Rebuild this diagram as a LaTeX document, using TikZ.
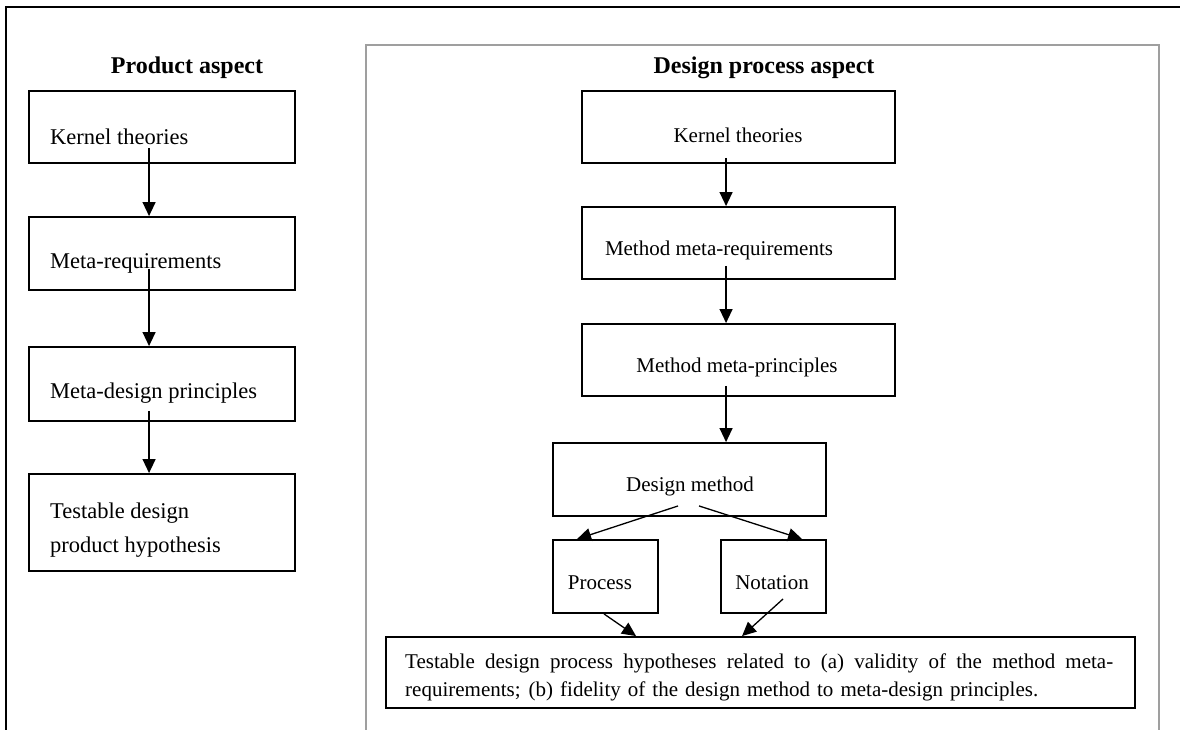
\documentclass[tikz,border=0pt]{standalone}
\usepackage{fontspec}
\setmainfont{Liberation Serif}
\usetikzlibrary{arrows.meta}
\begin{document}
\begin{tikzpicture}[x=1pt,y=-1pt,
  box/.style={draw=black, line width=1.9pt, rectangle, inner sep=0pt},
  ltxt/.style={anchor=west, inner sep=0pt, font=\fontsize{22.5}{27}\selectfont},
  rtxt/.style={inner sep=0pt, font=\fontsize{21}{25}\selectfont},
  ttl/.style={inner sep=0pt, font=\fontsize{24}{28}\selectfont\bfseries},
  arr/.style={line width=1.3pt, -{Triangle[length=14pt,width=13pt]}}]
\useasboundingbox (0,0) rectangle (1180,730);
\fill[white] (0,0) rectangle (1180,730);
% outer frame
\draw[line width=2.8pt] (6,731) -- (6,7) -- (1181,7);
% design process container
\draw[gray!75, line width=1.5pt] (366,731) -- (366,45) -- (1159,45) -- (1159,731);
% titles
\node[ttl] (tp) at (187,68) {Product aspect};
\node[ttl] (td) at (764,68) {Design process aspect};
% left boxes
\node[box, minimum width=266pt, minimum height=72pt] (k1) at (162,127) {};
\node[box, minimum width=266pt, minimum height=73pt] (m1) at (162,253.5) {};
\node[box, minimum width=266pt, minimum height=74pt] (d1) at (162,384) {};
\node[box, minimum width=266pt, minimum height=97pt] (t1) at (162,522.5) {};
\node[ltxt] (k1t) at (50,137) {Kernel theories};
\node[ltxt] (m1t) at (50,263) {Meta-requirements};
\node[ltxt] (d1t) at (50,393) {Meta-design principles};
\node[ltxt] (t1t) at (50,513) {Testable design};
\node[ltxt] (t1u) at (50,547) {product hypothesis};
% left arrows
\draw[arr] ([xshift=121pt,yshift=16pt]k1.south west) -- ([xshift=121pt]m1.north west);
\draw[arr] ([xshift=121pt,yshift=22pt]m1.south west) -- ([xshift=121pt]d1.north west);
\draw[arr] ([xshift=121pt,yshift=11pt]d1.south west) -- ([xshift=121pt]t1.north west);
% right boxes
\node[box, minimum width=313pt, minimum height=72pt] (k2) at (738.5,127) {};
\node[box, minimum width=313pt, minimum height=72pt] (mr) at (738.5,243) {};
\node[box, minimum width=313pt, minimum height=72pt] (mp) at (738.5,360) {};
\node[box, minimum width=273pt, minimum height=73pt] (dm) at (689.5,479.5) {};
\node[box, minimum width=105pt, minimum height=73pt] (pr) at (605.5,576.5) {};
\node[box, minimum width=105pt, minimum height=73pt] (no) at (773.5,576.5) {};
\node[box, minimum width=749pt, minimum height=71pt] (bt) at (760.5,672.5) {};
\node[rtxt] (k2t) at (738,135) {Kernel theories};
\node[rtxt] (mrt) at (719,250) {Method meta-requirements};
\node[rtxt] (mpt) at (737,367) {Method meta-principles};
\node[rtxt] (dmt) at (690,486) {Design method};
\node[rtxt] (prt) at (600,583) {Process};
\node[rtxt] (not) at (772,583) {Notation};
\node[rtxt, anchor=west] (bt1) at (405,663) {\makebox[708pt][s]{Testable design process hypotheses related to (a) validity of the method meta-}};
\node[rtxt, anchor=west] (bt2) at (405,691) {\makebox[633pt][s]{requirements; (b) fidelity of the design method to meta-design principles.}};
% right arrows
\draw[arr] ([xshift=145pt,yshift=6pt]k2.south west) -- ([xshift=145pt]mr.north west);
\draw[arr] ([xshift=145pt,yshift=14pt]mr.south west) -- ([xshift=145pt]mp.north west);
\draw[arr] ([xshift=145pt,yshift=11pt]mp.south west) -- ([xshift=174pt]dm.north west);
\draw[arr] ([xshift=126pt,yshift=11pt]dm.south west) -- ([xshift=25pt]pr.north west);
\draw[arr] ([xshift=147pt,yshift=11pt]dm.south west) -- ([xshift=82pt]no.north west);
\draw[arr] ([xshift=52pt]pr.south west) -- ([xshift=251pt]bt.north west);
\draw[arr] ([xshift=63pt,yshift=15pt]no.south west) -- ([xshift=357pt]bt.north west);
\end{tikzpicture}
\end{document}
